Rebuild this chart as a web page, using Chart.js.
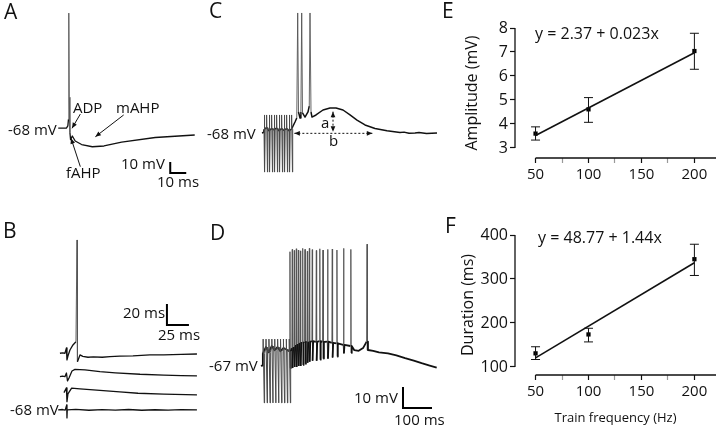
<!DOCTYPE html>
<html>
<head>
<meta charset="utf-8">
<script src="https://cdn.jsdelivr.net/npm/chart.js@4.4.1/dist/chart.umd.min.js"></script>
<style>
  body { margin: 0; background: #fff; }
  #fig { position: relative; width: 720px; height: 426px; overflow: hidden; background: #fff;
         font-family: 'Open Sans', sans-serif; color: #111; }
  canvas { position: absolute; }
  .t { position: absolute; line-height: 1; white-space: nowrap; font-size: 15px; }
  .p { font-size: 21px; }
  .eq { font-size: 16px; }
</style>
</head>
<body>
<div id="fig">
  <canvas id="cA" width="220" height="200" style="left:0;top:0"></canvas>
  <canvas id="cB" width="220" height="236" style="left:0;top:190px"></canvas>
  <canvas id="cC" width="240" height="200" style="left:200px;top:0"></canvas>
  <canvas id="cD" width="240" height="236" style="left:200px;top:190px"></canvas>
  <canvas id="cE" width="280" height="200" style="left:440px;top:0"></canvas>
  <canvas id="cF" width="280" height="226" style="left:440px;top:200px"></canvas>

  <div class="t p" style="left:4px;top:0.7px">A</div>
  <div class="t p" style="left:3px;top:220.4px">B</div>
  <div class="t p" style="left:209px;top:0.4px">C</div>
  <div class="t p" style="left:210px;top:221.9px">D</div>
  <div class="t p" style="left:442px;top:0.4px">E</div>
  <div class="t p" style="left:445px;top:214.7px">F</div>

  <div class="t" style="left:8px;top:121.7px">-68 mV</div>
  <div class="t" style="left:73px;top:100px">ADP</div>
  <div class="t" style="left:116px;top:100px">mAHP</div>
  <div class="t" style="left:66px;top:165px">fAHP</div>
  <div class="t" style="left:121px;top:156px">10 mV</div>
  <div class="t" style="left:157px;top:174px">10 ms</div>

  <div class="t" style="left:123px;top:305px">20 ms</div>
  <div class="t" style="left:158px;top:326.7px">25 ms</div>
  <div class="t" style="left:10px;top:401.7px">-68 mV</div>

  <div class="t" style="left:207px;top:125.7px">-68 mV</div>
  <div class="t" style="left:321px;top:115px">a</div>
  <div class="t" style="left:329px;top:132.7px">b</div>

  <div class="t" style="left:209px;top:358.4px">-67 mV</div>
  <div class="t" style="left:354px;top:390px">10 mV</div>
  <div class="t" style="left:394px;top:411.7px">100 ms</div>

  <div class="t eq" style="left:535px;top:25.1px">y = 2.37 + 0.023x</div>
  <div class="t eq" style="left:538px;top:229.1px">y = 48.77 + 1.44x</div>
</div>

<script>
// ---- A: single spike (ms from spike peak, mV)
const aTime = [-6.6, -1.5, -0.6, -0.2, 0, 0.3, 0.7, 1.1, 2.2, 4, 8, 14.7, 22, 33, 54, 78.7];
const aVolt = [-68, -68, -66, -60, 36.5, -40, -72, -78.5, -75.2, -79.8, -83, -85, -84.3, -80.7, -76.6, -74.3];

// ---- B: four sweeps (ms from stimulus, mV)
const b1Time = [-8, -5, -2.3, -0.6, 0, 1.1, 3.4, 6.8, 10.2, 11.4, 11.9, 14.8, 18, 23.9, 30, 40, 48.9, 60, 75, 94.3, 110, 130, 147.7];
const b1Volt = [-68, -67.6, -68, -63, -74.4, -70.6, -64.9, -60.1, -57, 39.9, -76, -69.6, -71, -71.8, -71.5, -71.8, -71.2, -70.8, -70.5, -69.6, -69.5, -69, -68.7];
const b2Time = [-8, -5, -2.3, -0.6, 0.6, 2.3, 5.7, 9.1, 20.5, 37.5, 55, 83, 110, 130, 147.7];
const b2Volt = [-68, -67.5, -68, -64.5, -72.1, -69.2, -62.6, -61, -61.6, -63.2, -64.3, -65.7, -66.5, -67, -67.3];
const b3Time = [-3.4, -0.6, 0, 1.1, 5.3, 14.8, 37.5, 60, 80.7, 110, 147.7];
const b3Volt = [-68, -63.5, -76.6, -69.2, -63.8, -64.5, -65.9, -67.3, -68.6, -69.5, -70.2];
const b4Time = [-10, -5, -2, -0.3, 0, 0.3, 10, 25, 40, 55, 70, 85, 100, 115, 130, 147.7];
const b4Volt = [-68, -67.6, -68.2, -63.2, -75.6, -68, -67.5, -68.3, -67.7, -68.2, -67.6, -68.3, -67.8, -68.2, -67.7, -68];

// ---- C: short train then spikes and plateau (ms from train onset, mV)
const cPreTime = [-4, -1];
const cPreVolt = [-68, -67.5];
const cPulseTime = [0, 5, 10, 15, 20, 25, 30, 35, 40, 45, 50, 55];
const cPulseVolt = [-65, -63, -66, -64, -65, -63.5, -66, -64, -65.5, -64, -66, -64.5];
const cArtifact = [-51.6, -103.5];
const cTime = [56, 62, 65.5, 67.4, 69, 72, 73.8, 75.4, 77, 82, 88, 90.5, 92, 94, 96, 104, 118, 132, 144, 158, 172, 186, 202, 222, 246, 272, 280, 290, 302, 310, 325, 346];
const cVolt = [-63.5, -58, -54.4, 41.1, -48.9, -54.4, -48.9, 41.1, -49.8, -53.5, -48.9, -43.5, 41.1, -48.9, -53.5, -51.6, -47.1, -45.3, -45.3, -47.1, -51.6, -56.2, -60.7, -63.9, -65.9, -67.5, -67.2, -68.3, -68, -67.6, -68.4, -68];

// ---- D: longer train, spike burst, slow decay (ms from train onset, mV)
const dPreTime = [-7, -3, -1];
const dPreVolt = [-67, -66.8, -66];
const dPulseTime = [0, 10, 20, 30, 40, 50, 60, 70, 80, 90];
const dPulseVolt = [-61, -58, -60.5, -57.5, -59.5, -58, -60, -58.5, -59, -60];
const dArtifact = [-54.2, -84.6];
const dSpikeTime = [93, 101, 108, 115, 122, 129, 137, 145, 153, 160, 170, 184, 196, 207, 223, 239, 255, 278, 303, 359];
const dSpikeBase = [-60, -58.5, -58, -57, -56.5, -56, -56, -55.5, -55.8, -55.5, -55.2, -55.5, -55.2, -55.6, -55.4, -56, -56.2, -57, -57.5, -55.4];
const dSpikeTop = [-12.6, -11.5, -12, -11.2, -11.8, -12.2, -11, -11.5, -12.4, -11, -11.6, -12, -11.2, -11.8, -11.5, -11.3, -11.8, -11, -11.5, -9];
const dSpikeLow = [-68, -68, -67.5, -67.5, -67, -67, -66.5, -66, -65.5, -65, -64.5, -64.5, -64, -63.5, -63.5, -63, -62.5, -61, -60.8, -59.5];
const dPlateauTime = [315, 330, 345];
const dPlateauVolt = [-59.5, -59.8, -58.5];
const dTailTime = [362, 380, 400, 431, 460, 490, 520, 547, 575, 599];
const dTailVolt = [-59.4, -59.8, -60.5, -61, -62, -63.3, -64.5, -65.7, -66.8, -67.8];

// ---- E / F: train frequency summaries
const freqs = [50, 100, 200];
const ampMean = [3.6, 4.61, 7.04];
const ampErrHi = [3.88, 5.1, 7.78];
const ampErrLo = [3.33, 4.07, 6.28];
const durMean = [131, 174, 345];
const durErrHi = [146, 188, 379];
const durErrLo = [117, 157, 308];
const fitFreq = [50, 200];
const ampFit = [3.52, 6.97];
const durFit = [120.8, 336.8];

const FONT = "'Open Sans', sans-serif";
Chart.defaults.font.family = FONT;
Chart.defaults.color = '#111';

const pts = (xs, ys) => xs.map((x, i) => ({ x, y: ys[i] }));

// stimulus artifacts: each pulse jumps to the clip top, sweeps to the bottom, returns
function pulsePoints(times, volts, art, w) {
  const out = [];
  times.forEach((t, i) => {
    out.push({ x: t, y: volts[i] }, { x: t + w * 0.1, y: art[0] },
             { x: t + w * 0.8, y: art[1] }, { x: t + w, y: volts[i] });
  });
  return out;
}

function spikePoints(times, base, top, low) {
  const out = [];
  times.forEach((t, i) => {
    out.push({ x: t - 1.5, y: base[i] }, { x: t, y: top[i] },
             { x: t + 1, y: low[i] }, { x: t + 3, y: base[i] });
  });
  return out;
}

// spikes (tall fast segments) are drawn as thin grey strokes, like the recording
const steep = c => Math.abs(c.p1.y - c.p0.y) > 25;
const thinSpikes = {
  borderColor: c => (steep(c) ? '#555' : undefined),
  borderWidth: c => (steep(c) ? 0.9 : undefined)
};

// arrows and dashed markers given in data units
const annot = {
  id: 'annot',
  afterDatasetsDraw(chart, args, opts) {
    if (!opts.arrows) return;
    const { ctx } = chart;
    const x = chart.scales.x, y = chart.scales.y;
    ctx.save();
    ctx.strokeStyle = '#111';
    ctx.fillStyle = '#111';
    ctx.lineWidth = 1;
    opts.arrows.forEach(a => {
      const x0 = x.getPixelForValue(a.from[0]), y0 = y.getPixelForValue(a.from[1]);
      const x1 = x.getPixelForValue(a.to[0]), y1 = y.getPixelForValue(a.to[1]);
      ctx.setLineDash(a.dash ? [2, 2] : []);
      ctx.beginPath(); ctx.moveTo(x0, y0); ctx.lineTo(x1, y1); ctx.stroke();
      ctx.setLineDash([]);
      const head = (hx, hy, fx, fy) => {
        const ang = Math.atan2(hy - fy, hx - fx);
        ctx.beginPath();
        ctx.moveTo(hx, hy);
        ctx.lineTo(hx - 6 * Math.cos(ang - 0.4), hy - 6 * Math.sin(ang - 0.4));
        ctx.lineTo(hx - 6 * Math.cos(ang + 0.4), hy - 6 * Math.sin(ang + 0.4));
        ctx.closePath(); ctx.fill();
      };
      head(x1, y1, x0, y0);
      if (a.both) head(x0, y0, x1, y1);
    });
    ctx.restore();
  }
};

function traceChart(id, xr, yScales, datasets, arrows) {
  const scales = { x: { type: 'linear', display: false, min: xr[0], max: xr[1] } };
  Object.keys(yScales).forEach(k => {
    scales[k] = { display: false, min: yScales[k][0], max: yScales[k][1] };
  });
  return new Chart(document.getElementById(id), {
    type: 'line',
    data: { datasets },
    options: {
      responsive: false, animation: false, events: [],
      layout: { padding: 0 },
      elements: { point: { radius: 0 }, line: { tension: 0, borderJoinStyle: 'round' } },
      plugins: { legend: { display: false }, tooltip: { enabled: false }, annot: { arrows } },
      scales
    },
    plugins: [annot]
  });
}

const trace = (data, extra) => Object.assign({ data, borderColor: '#111', borderWidth: 1.3, segment: thinSpikes }, extra);
const bar = (data, yID) => ({ data, borderColor: '#000', borderWidth: 2, borderJoinStyle: 'miter', yAxisID: yID || 'y' });
const artifacts = data => ({ data, borderColor: '#4a4a4a', borderWidth: 1 });

// A
traceChart('cA', [-43, 94.5], { y: [-133.4, 48.4] }, [
  trace(pts(aTime, aVolt)),
  bar([{ x: 63.4, y: -98.9 }, { x: 63.4, y: -108.9 }, { x: 73.4, y: -108.9 }])
], [
  { from: [7.2, -55.3], to: [2.0, -68.2] },
  { from: [34.3, -56.1], to: [16.6, -75.9] },
  { from: [7.2, -103.1], to: [1.4, -77.3] }
]);

// B (each sweep on its own offset axis)
traceChart('cB', [-76.1, 173.9], {
  y: [-137.3, 87.5], y2: [-115, 109.8], y3: [-99.8, 125], y4: [-83.3, 141.5]
}, [
  trace(pts(b1Time, b1Volt), { yAxisID: 'y' }),
  trace(pts(b2Time, b2Volt), { yAxisID: 'y2' }),
  trace(pts(b3Time, b3Volt), { yAxisID: 'y3' }),
  trace(pts(b4Time, b4Volt), { yAxisID: 'y4' }),
  bar([{ x: 113.6, y: -21 }, { x: 113.6, y: -41 }, { x: 138.6, y: -41 }])
], []);

// C
traceChart('cC', [-128, 352], { y: [-128.9, 52.9] }, [
  artifacts(pulsePoints(cPulseTime, cPulseVolt, cArtifact, 2.4)),
  trace(pts(cPreTime, cPreVolt).concat(pts(cPulseTime, cPulseVolt), pts(cTime, cVolt)), { borderWidth: 1.5 })
], [
  { from: [138, -48.6], to: [138, -66.8], dash: true, both: true },
  { from: [60.7, -68.3], to: [216.7, -68.3], dash: true, both: true }
]);

// D
const dMain = pts(dPreTime, dPreVolt)
  .concat(pts(dPulseTime, dPulseVolt), spikePoints(dSpikeTime, dSpikeBase, dSpikeTop, dSpikeLow),
          pts(dPlateauTime, dPlateauVolt), pts(dTailTime, dTailVolt))
  .sort((p, q) => p.x - q.x);
traceChart('cD', [-217.2, 610.4], { y: [-95.6, 16.8] }, [
  artifacts(pulsePoints(dPulseTime, dPulseVolt, dArtifact, 5.5)),
  trace(dMain, { borderWidth: 1.8 }),
  bar([{ x: 482.8, y: -77 }, { x: 482.8, y: -87 }, { x: 582.8, y: -87 }])
], []);

// E / F: detached axis lines + error bars
const statDecor = {
  id: 'statDecor',
  afterDatasetsDraw(chart) {
    const { ctx, chartArea } = chart;
    const x = chart.scales.x, y = chart.scales.y;
    ctx.save();
    ctx.strokeStyle = '#111';
    ctx.lineWidth = 1.3;
    ctx.beginPath();
    ctx.moveTo(chartArea.left, y.getPixelForValue(y.ticks[0].value));
    ctx.lineTo(chartArea.left, y.getPixelForValue(y.ticks[y.ticks.length - 1].value));
    ctx.moveTo(x.getPixelForValue(x.ticks[0].value), chartArea.bottom);
    ctx.lineTo(chartArea.right, chartArea.bottom);
    ctx.stroke();
    ctx.lineWidth = 1;
    chart.data.datasets.forEach(ds => {
      if (!ds.errLo) return;
      ds.data.forEach((p, j) => {
        const px = x.getPixelForValue(p.x);
        const lo = y.getPixelForValue(ds.errLo[j]);
        const hi = y.getPixelForValue(ds.errHi[j]);
        ctx.beginPath();
        ctx.moveTo(px, lo); ctx.lineTo(px, hi);
        ctx.moveTo(px - 4.5, lo); ctx.lineTo(px + 4.5, lo);
        ctx.moveTo(px - 4.5, hi); ctx.lineTo(px + 4.5, hi);
        ctx.stroke();
      });
    });
    ctx.restore();
  }
};

function statChart(id, cfg) {
  return new Chart(document.getElementById(id), {
    type: 'scatter',
    data: {
      datasets: [
        { type: 'line', data: pts(fitFreq, cfg.fit), borderColor: '#111', borderWidth: 1.6, pointRadius: 0 },
        { data: pts(freqs, cfg.mean), errLo: cfg.lo, errHi: cfg.hi, pointStyle: 'rect',
          pointRadius: 3, backgroundColor: '#000', borderColor: '#000', borderWidth: 0 }
      ]
    },
    options: {
      responsive: false, animation: false, events: [],
      layout: { padding: { top: cfg.padTop, right: 0, left: 0, bottom: 0 } },
      plugins: { legend: { display: false }, tooltip: { enabled: false } },
      scales: {
        x: {
          type: 'linear', min: 30.6, max: 220.4,
          afterFit: s => { s.height = cfg.xHeight; },
          border: { display: false },
          grid: { drawOnChartArea: false, tickLength: 5, tickWidth: 1.2,
                  tickColor: c => (c.tick && c.tick.value % 50) ? '#999' : '#111' },
          ticks: { stepSize: 25, includeBounds: false, autoSkip: false, maxRotation: 0, padding: 3,
                   color: '#111', font: { size: 15 }, callback: v => (v % 50 === 0 ? String(v) : '') },
          title: cfg.xTitle
            ? { display: true, text: cfg.xTitle, color: '#111', font: { size: 13 }, padding: { top: 0, bottom: 0 } }
            : { display: false }
        },
        y: {
          min: cfg.yRange[0], max: cfg.yRange[1],
          afterFit: s => { s.width = 75; },
          border: { display: false },
          grid: { drawOnChartArea: false, tickLength: 5, tickWidth: 1.2, tickColor: '#111' },
          ticks: { stepSize: cfg.step, includeBounds: false, padding: 2, color: '#111', font: { size: 16 } },
          title: { display: true, text: cfg.yTitle, color: '#111', font: { size: 16 },
                   padding: { top: cfg.yTitlePad, bottom: 0 } }
        }
      }
    },
    plugins: [statDecor]
  });
}

statChart('cE', {
  mean: ampMean, lo: ampErrLo, hi: ampErrHi, fit: ampFit,
  yRange: [2.583, 8], step: 1, padTop: 28, xHeight: 42,
  yTitle: 'Amplitude (mV)', yTitlePad: 22.9
});
statChart('cF', {
  mean: durMean, lo: durErrLo, hi: durErrHi, fit: durFit,
  yRange: [81.8, 400], step: 100, padTop: 35, xHeight: 51,
  yTitle: 'Duration (ms)', yTitlePad: 18.4, xTitle: 'Train frequency (Hz)'
});
</script>
</body>
</html>
